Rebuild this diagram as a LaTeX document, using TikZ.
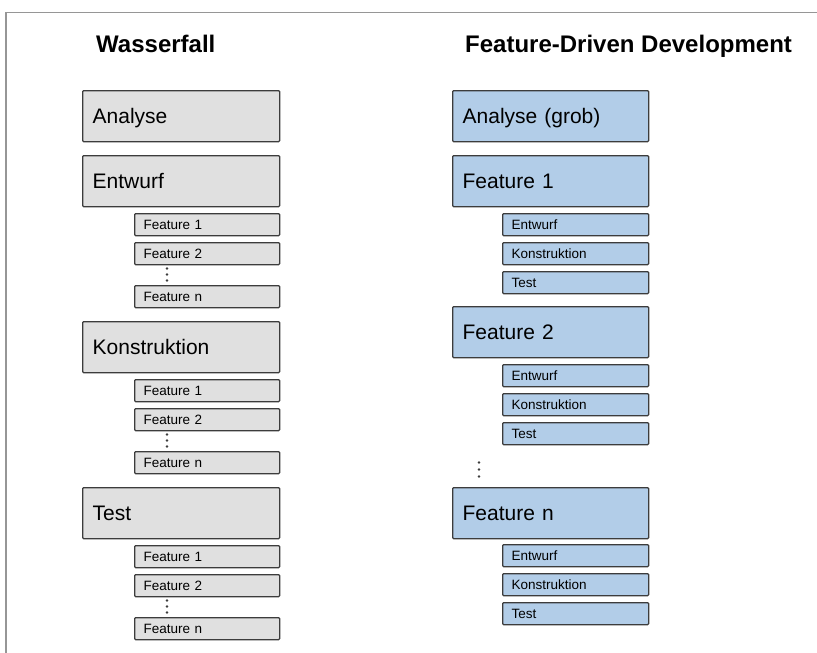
\documentclass[tikz,border=0pt]{standalone}
\usepackage{fontspec}
\setmainfont{Liberation Sans}
\definecolor{grayfill}{RGB}{224,224,224}
\definecolor{bluefill}{RGB}{178,205,232}
\definecolor{edgecol}{RGB}{60,60,60}
\definecolor{framecol}{RGB}{150,150,150}
\tikzset{
  box/.style={draw=edgecol, line width=1.3pt, rounded corners=1pt, anchor=north west, align=left, inner ysep=0pt},
  bigbox/.style={box, minimum height=51pt, inner xsep=10pt, text width=177pt, text height=14.5pt, text depth=0pt, font=\fontsize{21}{25}\selectfont},
  smallbox/.style={box, minimum height=22pt, inner xsep=9pt, text width=127pt, text height=10pt, text depth=0pt, font=\fontsize{13.5}{16}\selectfont},
  title/.style={anchor=base west, inner sep=0pt, font=\bfseries\fontsize{24}{28}\selectfont},
  dot/.style={fill=edgecol}
}
\begin{document}
\begin{tikzpicture}[x=1pt,y=-1pt]
\useasboundingbox (0,0) rectangle (817,653);
\draw[framecol, line width=1.2pt] (817,12.5) -- (6,12.5) -- (6,653);
% titles
\node[title] (t1) at (96,52.5) {Wasserfall};
\node[title] (t2) at (465,52.5) {Feature-Driven Development};
% left column
\begin{scope}[every node/.append style={fill=grayfill}]
\node[bigbox] (la) at (82,90) {Analyse};
\node[bigbox] (le) at (82,155) {Entwurf};
\node[smallbox] (le1) at (134,213) {Feature 1};
\node[smallbox] (le2) at (134,242) {Feature 2};
\node[smallbox] (len) at (134,285) {Feature n};
\node[bigbox] (lk) at (82,321) {Konstruktion};
\node[smallbox] (lk1) at (134,379) {Feature 1};
\node[smallbox] (lk2) at (134,408) {Feature 2};
\node[smallbox] (lkn) at (134,451) {Feature n};
\node[bigbox] (lt) at (82,487) {Test};
\node[smallbox] (lt1) at (134,545) {Feature 1};
\node[smallbox] (lt2) at (134,574) {Feature 2};
\node[smallbox] (ltn) at (134,617) {Feature n};
\end{scope}
\foreach \o in {0,166,332}{
  \foreach \d in {268.5,274.5,280.5}{
    \fill[dot] (167,\d+\o) circle (1.3pt);
  }
}
% right column
\begin{scope}[every node/.append style={fill=bluefill}, bigbox/.append style={text width=176pt}, smallbox/.append style={text width=128pt}]
\node[bigbox] (ra) at (452,90) {Analyse (grob)};
\node[bigbox] (r1) at (452,155) {Feature 1};
\node[smallbox] (r1e) at (502,213) {Entwurf};
\node[smallbox] (r1k) at (502,242) {Konstruktion};
\node[smallbox] (r1t) at (502,271) {Test};
\node[bigbox] (r2) at (452,306) {Feature 2};
\node[smallbox] (r2e) at (502,364) {Entwurf};
\node[smallbox] (r2k) at (502,393) {Konstruktion};
\node[smallbox] (r2t) at (502,422) {Test};
\node[bigbox] (rn) at (452,487) {Feature n};
\node[smallbox] (rne) at (502,544) {Entwurf};
\node[smallbox] (rnk) at (502,573) {Konstruktion};
\node[smallbox] (rnt) at (502,602) {Test};
\end{scope}
\foreach \d in {462.5,469.5,476.5}{
  \fill[dot] (479,\d) circle (1.3pt);
}
\end{tikzpicture}
\end{document}
